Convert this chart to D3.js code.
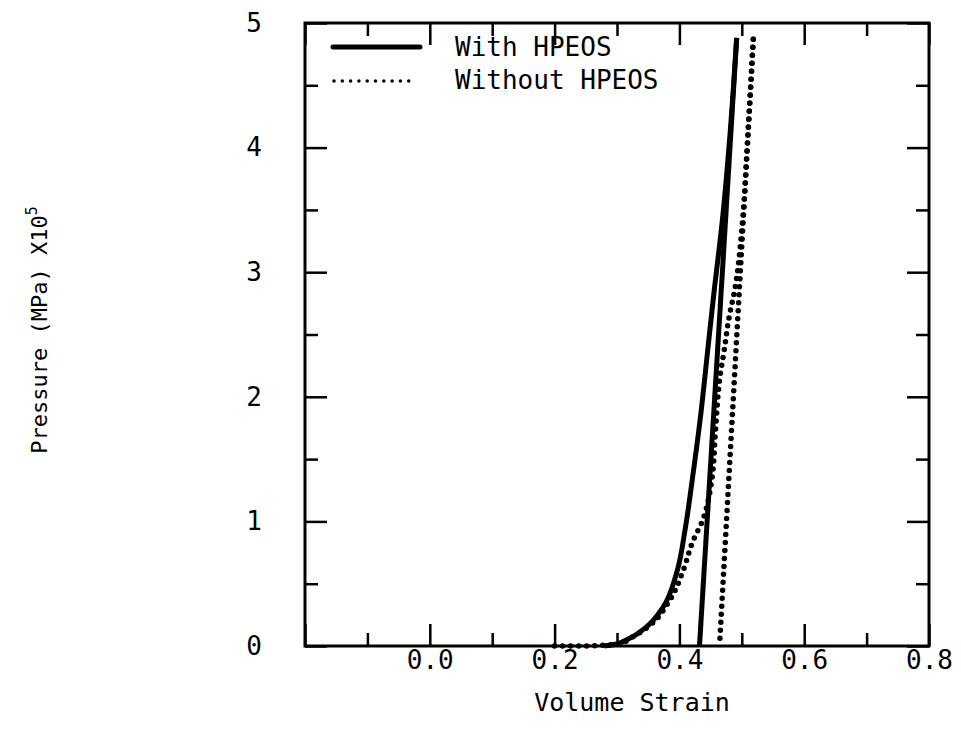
<!DOCTYPE html>
<html>
<head>
<meta charset="utf-8">
<script src="https://cdn.jsdelivr.net/npm/d3@7"></script>
<style>
  body { margin: 0; background: #fff; }
  svg text { font-family: "DejaVu Sans Mono", monospace; fill: #000; }
</style>
</head>
<body>
<svg id="chart" width="961" height="742"></svg>
<script>
// axis ticks
const xMajor = [-0.2, 0.0, 0.2, 0.4, 0.6, 0.8];
const xMinor = [-0.1, 0.1, 0.3, 0.5, 0.7];
const yMajor = [0, 1, 2, 3, 4, 5];
const yMinor = [0.5, 1.5, 2.5, 3.5, 4.5];

// With HPEOS : loading curve + unloading line (volume strain, pressure x10^5 MPa)
const withLoadStrain   = [0.28, 0.294, 0.3155, 0.3476, 0.3737, 0.3957, 0.409, 0.4205, 0.4345, 0.4455, 0.4555, 0.4685, 0.481, 0.4918];
const withLoadPress    = [0, 0.01, 0.05, 0.155, 0.31, 0.59, 0.93, 1.33, 1.87, 2.38, 2.84, 3.4, 4.1, 4.88];
const withUnloadStrain = [0.4918, 0.4322];
const withUnloadPress  = [4.88, 0];

// Without HPEOS
const woLoadStrain   = [0.2, 0.25, 0.3048, 0.3208, 0.35, 0.3849, 0.4063, 0.4223, 0.4357, 0.4518, 0.458, 0.4645, 0.472, 0.48, 0.488, 0.501, 0.5098, 0.5184];
const woLoadPress    = [0, 0, 0.02, 0.06, 0.155, 0.37, 0.61, 0.85, 0.99, 1.33, 1.74, 2.14, 2.38, 2.65, 2.84, 3.4, 4.1, 4.87];
const woUnloadStrain = [0.5184, 0.4643];
const woUnloadPress  = [4.87, 0];

const legendLabels = ["With HPEOS", "Without HPEOS"];

const svg = d3.select("#chart");
svg.append("rect").attr("width", 961).attr("height", 742).attr("fill", "#fff");

const x = d3.scaleLinear().domain([-0.2, 0.8]).range([305, 929]);
const y = d3.scaleLinear().domain([0, 5]).range([646, 23]);

const zip = (a, b) => a.map((v, i) => [v, b[i]]);
const line = d3.line().x(d => x(d[0])).y(d => y(d[1])).curve(d3.curveMonotoneY);

// curves
const plot = svg.append("g");
plot.append("path").datum(zip(withLoadStrain, withLoadPress))
  .attr("d", line).attr("fill", "none").attr("stroke", "#000").attr("stroke-width", 5);
plot.append("path").datum(zip(withUnloadStrain, withUnloadPress))
  .attr("d", line).attr("fill", "none").attr("stroke", "#000").attr("stroke-width", 5);
plot.append("path").datum(zip(woLoadStrain, woLoadPress))
  .attr("d", line).attr("fill", "none").attr("stroke", "#000").attr("stroke-width", 5.5)
  .attr("stroke-linecap", "round").attr("stroke-dasharray", "0 8");
plot.append("path").datum(zip(woUnloadStrain, woUnloadPress))
  .attr("d", line).attr("fill", "none").attr("stroke", "#000").attr("stroke-width", 5.5)
  .attr("stroke-linecap", "round").attr("stroke-dasharray", "0 8");

// axes with inward ticks
function tickStyle(g) {
  g.select(".domain").remove();
  g.selectAll(".tick line").attr("stroke", "#000").attr("stroke-width", 2.5);
}
const H = y.range()[0], T = y.range()[1], L = x.range()[0], R = x.range()[1];

svg.append("g").attr("transform", `translate(0,${H})`)
  .call(d3.axisBottom(x).tickValues(xMajor).tickSize(-22).tickPadding(5)
    .tickFormat(d => d < -0.15 ? "" : d3.format(".1f")(d)))
  .call(tickStyle)
  .selectAll("text").attr("font-size", 26).attr("font-family", "DejaVu Sans Mono").attr("fill", "#000");
svg.append("g").attr("transform", `translate(0,${H})`)
  .call(d3.axisBottom(x).tickValues(xMinor).tickSize(-13).tickFormat("")).call(tickStyle);
svg.append("g").attr("transform", `translate(0,${T})`)
  .call(d3.axisTop(x).tickValues(xMajor).tickSize(-22).tickFormat("")).call(tickStyle);
svg.append("g").attr("transform", `translate(0,${T})`)
  .call(d3.axisTop(x).tickValues(xMinor).tickSize(-13).tickFormat("")).call(tickStyle);

svg.append("g").attr("transform", `translate(${L},0)`)
  .call(d3.axisLeft(y).tickValues(yMajor).tickSize(-22).tickPadding(43).tickFormat(d3.format("d")))
  .call(tickStyle)
  .selectAll("text").attr("font-size", 26).attr("font-family", "DejaVu Sans Mono").attr("fill", "#000");
svg.append("g").attr("transform", `translate(${L},0)`)
  .call(d3.axisLeft(y).tickValues(yMinor).tickSize(-13).tickFormat("")).call(tickStyle);
svg.append("g").attr("transform", `translate(${R},0)`)
  .call(d3.axisRight(y).tickValues(yMajor).tickSize(-22).tickFormat("")).call(tickStyle);
svg.append("g").attr("transform", `translate(${R},0)`)
  .call(d3.axisRight(y).tickValues(yMinor).tickSize(-13).tickFormat("")).call(tickStyle);

// frame
svg.append("rect").attr("x", L).attr("y", T).attr("width", R - L).attr("height", H - T)
  .attr("fill", "none").attr("stroke", "#000").attr("stroke-width", 3);

// titles
svg.append("text").attr("x", (L + R) / 2 + 15).attr("y", 711).attr("text-anchor", "middle")
  .attr("font-size", 25).text("Volume Strain");
const yt = svg.append("text").attr("transform", "translate(47,330) rotate(-90)")
  .attr("text-anchor", "middle").attr("font-size", 22);
yt.append("tspan").text("Pressure (MPa) X10");
yt.append("tspan").attr("dy", -10).attr("font-size", 15).text("5");

// legend
const leg = svg.append("g");
leg.append("line").attr("x1", 333).attr("x2", 420).attr("y1", 47).attr("y2", 47)
  .attr("stroke", "#000").attr("stroke-width", 5).attr("stroke-linecap", "round");
leg.append("line").attr("x1", 334).attr("x2", 417).attr("y1", 81).attr("y2", 81)
  .attr("stroke", "#000").attr("stroke-width", 3.5).attr("stroke-linecap", "round")
  .attr("stroke-dasharray", "0 8.3");
leg.selectAll("text.lab").data(legendLabels).enter().append("text")
  .attr("class", "lab").attr("x", 455).attr("y", (d, i) => 56 + i * 33)
  .attr("font-size", 26).text(d => d);
</script>
</body>
</html>
